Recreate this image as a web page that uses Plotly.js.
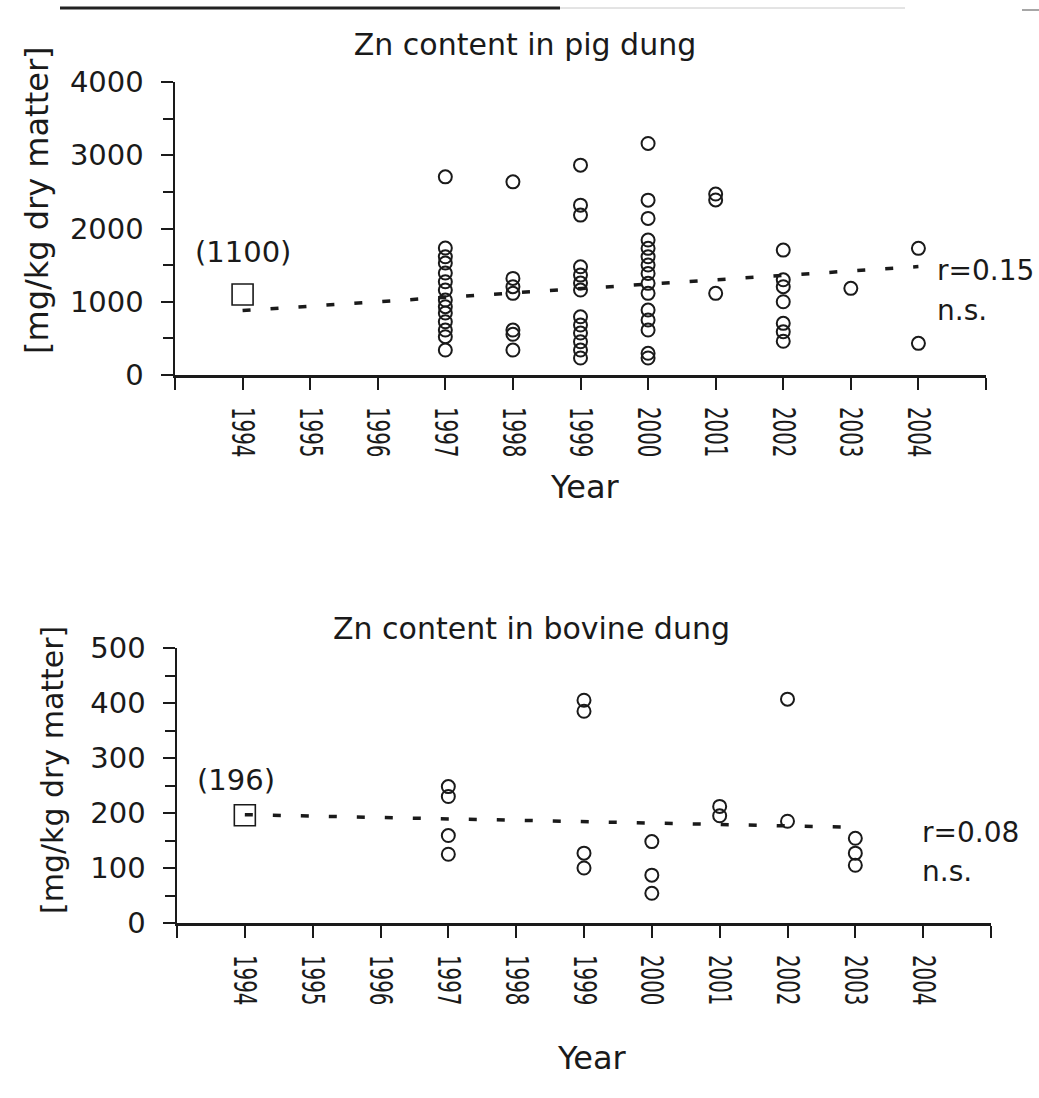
<!DOCTYPE html>
<html>
<head>
<meta charset="utf-8">
<script src="https://cdn.plot.ly/plotly-3.0.1.min.js"></script>
<style>html,body{margin:0;padding:0;background:#fff;}#chart{width:1039px;height:1098px;}</style>
</head>
<body>
<div id="chart"></div>
<script>
// ---- Data: Zn content in pig dung ----
const pigYear = [
  1997,1997,1997,1997,1997,1997,1997,1997,1997,1997,1997,1997,1997,1997,
  1998,1998,1998,1998,1998,1998,1998,
  1999,1999,1999,1999,1999,1999,1999,1999,1999,1999,1999,1999,1999,
  2000,2000,2000,2000,2000,2000,2000,2000,2000,2000,2000,2000,2000,2000,2000,
  2001,2001,2001,
  2002,2002,2002,2002,2002,2002,2002,
  2003,
  2004,2004
];
const pigZn = [
  2705,1733,1614,1528,1392,1273,1160,1023,932,846,727,614,523,341,
  2637,1319,1205,1115,614,556,341,
  2865,2319,2183,1477,1364,1255,1160,795,682,573,454,341,232,
  3161,2387,2138,1842,1729,1614,1501,1387,1251,1115,887,750,614,296,232,
  2470,2390,1115,
  1705,1300,1205,1000,705,590,460,
  1183,
  1729,432
];
const pigRefYear = [1994];
const pigRefZn = [1100];
const pigTrendYear = [1994, 2004];
const pigTrendZn = [880, 1480];

// ---- Data: Zn content in bovine dung ----
const bovYear = [
  1997,1997,1997,1997,
  1999,1999,1999,1999,
  2000,2000,2000,
  2001,2001,
  2002,2002,
  2003,2003,2003
];
const bovZn = [
  248,230,159,125,
  405,385,127,100,
  148,87,54,
  212,195,
  407,185,
  154,127,105
];
const bovRefYear = [1994];
const bovRefZn = [196];
const bovTrendYear = [1994, 2003];
const bovTrendZn = [197, 174];

// ---- Tick labels ----
const yearTickVals = [1993,1994,1995,1996,1997,1998,1999,2000,2001,2002,2003,2004,2005];
const yearTickText = ['','1994','1995','1996','1997','1998','1999','2000','2001','2002','2003','2004',''];
const pigYTicks = [0,1000,2000,3000,4000];
const bovYTicks = [0,100,200,300,400,500];

const FONT = 'DejaVu Sans, Verdana, sans-serif';
const INK = '#1a1a1a';
const W = 1039, H = 1098;
const px = v => v / W;
const py = v => 1 - v / H;

const circ = {symbol: 'circle-open', size: 13, color: INK, line: {width: 2, color: INK}};
const sq = {symbol: 'square-open', size: 21, color: INK, line: {width: 1.6, color: INK}};
const dashLine = {color: INK, width: 3.5, dash: '8px,20px'};

const traces = [
  {x: pigTrendYear, y: pigTrendZn, type: 'scatter', mode: 'lines', line: dashLine, xaxis: 'x', yaxis: 'y', cliponaxis: false, hoverinfo: 'skip'},
  {x: pigYear, y: pigZn, type: 'scatter', mode: 'markers', marker: circ, xaxis: 'x', yaxis: 'y', cliponaxis: false},
  {x: pigRefYear, y: pigRefZn, type: 'scatter', mode: 'markers', marker: sq, xaxis: 'x', yaxis: 'y', cliponaxis: false},
  {x: bovTrendYear, y: bovTrendZn, type: 'scatter', mode: 'lines', line: dashLine, xaxis: 'x2', yaxis: 'y2', cliponaxis: false, hoverinfo: 'skip'},
  {x: bovYear, y: bovZn, type: 'scatter', mode: 'markers', marker: circ, xaxis: 'x2', yaxis: 'y2', cliponaxis: false},
  {x: bovRefYear, y: bovRefZn, type: 'scatter', mode: 'markers', marker: sq, xaxis: 'x2', yaxis: 'y2', cliponaxis: false}
];

function xAxis(domain, anchor) {
  return {
    domain: domain, anchor: anchor, range: [1993, 2005],
    tickmode: 'array', tickvals: yearTickVals, ticktext: yearTickText,
    tickangle: 90, ticks: 'outside', ticklen: 12, tickwidth: 2, tickcolor: INK,
    ticklabelstandoff: 11,
    showline: true, linecolor: INK, linewidth: 2.5,
    showgrid: false, zeroline: false,
    tickfont: {family: FONT, size: 32, color: INK}
  };
}
function yAxis(domain, anchor, range, tickvals, minorStep) {
  return {
    domain: domain, anchor: anchor, range: range,
    tickmode: 'array', tickvals: tickvals,
    ticks: 'outside', ticklen: 12, tickwidth: 2, tickcolor: INK,
    ticklabelstandoff: 11,
    minor: {dtick: minorStep, ticks: 'outside', ticklen: 10, tickwidth: 2, tickcolor: INK, showgrid: false},
    showline: true, linecolor: INK, linewidth: 2.5,
    showgrid: false, zeroline: false,
    tickfont: {family: FONT, size: 29, color: INK}
  };
}

const txt = (size) => ({family: FONT, size: size, color: INK});

const layout = {
  width: W, height: H,
  margin: {l: 0, r: 0, t: 0, b: 0},
  paper_bgcolor: '#fff', plot_bgcolor: '#fff',
  showlegend: false,
  title: {text: 'Zn content in pig dung', x: px(525), xanchor: 'center', y: py(44), yanchor: 'middle', yref: 'paper', font: txt(30)},
  xaxis: xAxis([px(175), px(986)], 'y'),
  yaxis: yAxis([py(375), py(82)], 'x', [0, 4000], pigYTicks, 500),
  xaxis2: xAxis([px(177), px(991)], 'y2'),
  yaxis2: yAxis([py(923), py(648)], 'x2', [0, 500], bovYTicks, 50),
  annotations: [
    {text: 'Zn content in bovine dung', xref: 'paper', yref: 'paper', x: px(531), y: py(628), xanchor: 'center', yanchor: 'middle', showarrow: false, font: txt(30)},
    {text: '[mg/kg dry matter]', xref: 'paper', yref: 'paper', x: px(37), y: py(200), xanchor: 'center', yanchor: 'middle', textangle: -90, showarrow: false, font: txt(32)},
    {text: '[mg/kg dry matter]', xref: 'paper', yref: 'paper', x: px(52), y: py(770), xanchor: 'center', yanchor: 'middle', textangle: -90, showarrow: false, font: txt(30)},
    {text: 'Year', xref: 'paper', yref: 'paper', x: px(585), y: py(487), xanchor: 'center', yanchor: 'middle', showarrow: false, font: txt(32)},
    {text: 'Year', xref: 'paper', yref: 'paper', x: px(592), y: py(1058), xanchor: 'center', yanchor: 'middle', showarrow: false, font: txt(32)},
    {text: '(1100)', xref: 'x', yref: 'y', x: 1994, y: 1678, xanchor: 'center', yanchor: 'middle', showarrow: false, font: txt(29)},
    {text: 'r=0.15', xref: 'x', yref: 'y', x: 2004.25, y: 1433, xanchor: 'left', yanchor: 'middle', showarrow: false, font: txt(28)},
    {text: 'n.s.', xref: 'x', yref: 'y', x: 2004.25, y: 887, xanchor: 'left', yanchor: 'middle', showarrow: false, font: txt(28)},
    {text: '(196)', xref: 'x2', yref: 'y2', x: 1993.87, y: 260, xanchor: 'center', yanchor: 'middle', showarrow: false, font: txt(29)},
    {text: 'r=0.08', xref: 'x2', yref: 'y2', x: 2003.95, y: 165, xanchor: 'left', yanchor: 'middle', showarrow: false, font: txt(28)},
    {text: 'n.s.', xref: 'x2', yref: 'y2', x: 2003.95, y: 93, xanchor: 'left', yanchor: 'middle', showarrow: false, font: txt(28)}
  ],
  shapes: [
    {type: 'line', xref: 'paper', yref: 'paper', x0: px(60), x1: px(560), y0: py(8), y1: py(8), line: {color: '#222', width: 3}},
    {type: 'line', xref: 'paper', yref: 'paper', x0: px(560), x1: px(905), y0: py(8), y1: py(8), line: {color: '#c8c8c8', width: 1}},
    {type: 'line', xref: 'paper', yref: 'paper', x0: px(1022), x1: px(1039), y0: py(10), y1: py(10), line: {color: '#888', width: 1.5}}
  ]
};

Plotly.newPlot('chart', traces, layout, {staticPlot: true, displayModeBar: false}).then(function (gd) {
  // The original's rotated year labels are narrow: compress them along the reading direction.
  gd.querySelectorAll('.xtick text, .x2tick text').forEach(function (t) {
    if (!t.textContent) return;
    const bb = t.getBBox();
    const cx = bb.x, cy = bb.y + bb.height / 2;
    const old = t.getAttribute('transform') || '';
    t.setAttribute('transform', old + ' translate(' + cx + ',' + cy + ') scale(0.62,1) translate(' + (-cx) + ',' + (-cy) + ')');
  });
});
</script>
</body>
</html>
